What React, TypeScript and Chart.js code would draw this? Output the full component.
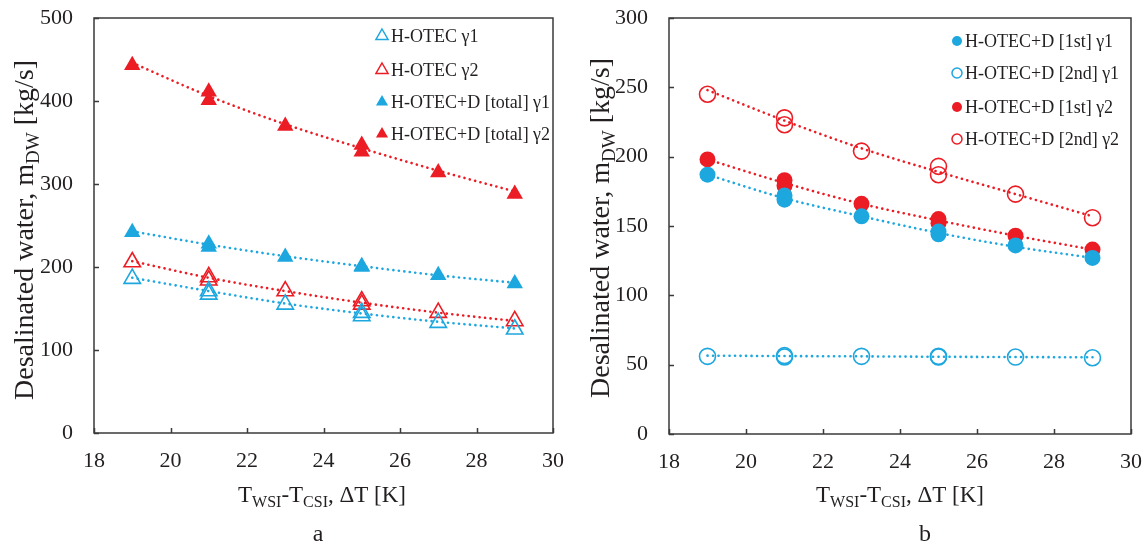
import React, { useEffect, useRef } from "react";
import { Chart, registerables } from "chart.js";

Chart.register(...registerables);

// ---------- data ----------
const xPoints = [19, 21, 21, 23, 25, 25, 27, 29];
const trendX = [19, 21, 23, 25, 27, 29];

// panel a
const aOtecG1 = [186, 171, 167, 155, 145, 141, 133, 125];
const aOtecG2 = [206, 188, 184, 171, 159, 155, 145, 135];
const aTotalG1 = [242, 228, 224, 212, 201, 200, 190, 180];
const aTotalG2 = [443, 411, 401, 370, 347, 339, 314, 288];
const aTrendOtecG1 = [187, 171, 156, 144, 134, 126];
const aTrendOtecG2 = [207, 187, 171, 157, 145, 135];
const aTrendTotalG1 = [243, 227, 213, 201, 190, 181];
const aTrendTotalG2 = [446, 406, 372, 343, 316, 291];

// panel b
const b1stG1 = [187, 172, 169, 157, 146, 144, 136, 127];
const b2ndG1 = [56, 56.5, 55.5, 56, 56, 55.5, 55.5, 55];
const b1stG2 = [198, 183, 179, 166, 155, 152, 143, 133];
const b2ndG2 = [245, 228, 223, 204, 193, 187, 173, 156];
const bTrend1stG1 = [187, 170, 157, 145, 135, 127];
const bTrend2ndG1 = [56.5, 56.2, 56, 55.7, 55.5, 55.3];
const bTrend1stG2 = [198, 181, 166, 154, 143, 133];
const bTrend2ndG2 = [248, 226, 206, 189, 173, 157];

const aLabels = ["H-OTEC γ1", "H-OTEC γ2", "H-OTEC+D [total] γ1", "H-OTEC+D [total] γ2"];
const bLabels = ["H-OTEC+D [1st] γ1", "H-OTEC+D [2nd] γ1", "H-OTEC+D [1st] γ2", "H-OTEC+D [2nd] γ2"];

const BLUE = "#1DA7DF";
const RED = "#EC1C24";
const INK = "#231F20";
const SERIF = "'Liberation Serif', 'Times New Roman', serif";

type Series = {
  label: string;
  values: number[];
  trend: number[];
  color: string;
  filled: boolean;
  shape: "triangle" | "circle";
};

const panelA: Series[] = [
  { label: aLabels[0], values: aOtecG1, trend: aTrendOtecG1, color: BLUE, filled: false, shape: "triangle" },
  { label: aLabels[1], values: aOtecG2, trend: aTrendOtecG2, color: RED, filled: false, shape: "triangle" },
  { label: aLabels[2], values: aTotalG1, trend: aTrendTotalG1, color: BLUE, filled: true, shape: "triangle" },
  { label: aLabels[3], values: aTotalG2, trend: aTrendTotalG2, color: RED, filled: true, shape: "triangle" },
];

const panelB: Series[] = [
  { label: bLabels[0], values: b1stG1, trend: bTrend1stG1, color: BLUE, filled: true, shape: "circle" },
  { label: bLabels[1], values: b2ndG1, trend: bTrend2ndG1, color: BLUE, filled: false, shape: "circle" },
  { label: bLabels[2], values: b1stG2, trend: bTrend1stG2, color: RED, filled: true, shape: "circle" },
  { label: bLabels[3], values: b2ndG2, trend: bTrend2ndG2, color: RED, filled: false, shape: "circle" },
];

type Seg = { t: string; sub?: boolean };

function drawRich(ctx: CanvasRenderingContext2D, segs: Seg[], cx: number, cy: number, size: number, rotate: boolean) {
  const subSize = Math.round(size * 0.68);
  const fontMain = `${size}px ${SERIF}`;
  const fontSub = `${subSize}px ${SERIF}`;
  let total = 0;
  const widths = segs.map((s) => {
    ctx.font = s.sub ? fontSub : fontMain;
    const w = ctx.measureText(s.t).width;
    total += w;
    return w;
  });
  ctx.save();
  ctx.translate(cx, cy);
  if (rotate) ctx.rotate(-Math.PI / 2);
  ctx.fillStyle = INK;
  ctx.textBaseline = "alphabetic";
  ctx.textAlign = "left";
  let x = -total / 2;
  const base = size * 0.33;
  segs.forEach((s, i) => {
    ctx.font = s.sub ? fontSub : fontMain;
    ctx.fillText(s.t, x, s.sub ? base + size * 0.22 : base);
    x += widths[i];
  });
  ctx.restore();
}

function drawMarker(ctx: CanvasRenderingContext2D, shape: string, x: number, y: number, r: number, color: string, filled: boolean) {
  ctx.beginPath();
  if (shape === "triangle") {
    ctx.moveTo(x, y - r);
    ctx.lineTo(x + r * 0.866, y + r * 0.5);
    ctx.lineTo(x - r * 0.866, y + r * 0.5);
    ctx.closePath();
  } else {
    ctx.arc(x, y, r, 0, Math.PI * 2);
  }
  if (filled) {
    ctx.fillStyle = color;
    ctx.fill();
  } else {
    ctx.strokeStyle = color;
    ctx.lineWidth = 1.5;
    ctx.stroke();
  }
}

const decorPlugin = {
  id: "decor",
  afterDraw(chart: any, _args: any, opts: any) {
    const { ctx, chartArea: a, scales } = chart;
    ctx.save();
    // frame
    ctx.strokeStyle = "#3A3A3A";
    ctx.lineWidth = 1.5;
    ctx.strokeRect(a.left, a.top, a.right - a.left, a.bottom - a.top);
    // inner ticks
    ctx.beginPath();
    scales.x.ticks.forEach((t: any) => {
      const px = Math.round(scales.x.getPixelForValue(t.value)) + 0.5;
      ctx.moveTo(px, a.bottom);
      ctx.lineTo(px, a.bottom - 5);
    });
    scales.y.ticks.forEach((t: any) => {
      const py = Math.round(scales.y.getPixelForValue(t.value)) + 0.5;
      ctx.moveTo(a.left, py);
      ctx.lineTo(a.left + 5, py);
    });
    ctx.stroke();
    // legend
    const series: Series[] = opts.series;
    ctx.textBaseline = "middle";
    ctx.textAlign = "left";
    series.forEach((s, i) => {
      const y = opts.legendY[i];
      drawMarker(ctx, s.shape, opts.legendMarkerX, y, s.shape === "triangle" ? 7 : 5, s.color, s.filled);
      ctx.fillStyle = INK;
      ctx.font = `18px ${SERIF}`;
      ctx.fillText(s.label, opts.legendTextX, y + 1);
    });
    // axis titles
    drawRich(ctx, opts.yTitle, opts.yTitleX, opts.yTitleY, 28, true);
    drawRich(ctx, opts.xTitle, opts.xTitleX, opts.xTitleY, 23, false);
    // panel letter
    ctx.font = `24px ${SERIF}`;
    ctx.fillStyle = INK;
    ctx.textAlign = "center";
    ctx.textBaseline = "middle";
    ctx.fillText(opts.letter, opts.letterX, opts.letterY);
    ctx.restore();
  },
};

type PanelCfg = {
  series: Series[];
  yMax: number;
  yStep: number;
  yWidth: number;
  xHeight: number;
  padRight: number;
  padTop: number;
  decor: any;
};

function buildConfig(p: PanelCfg): any {
  const datasets: any[] = [];
  p.series.forEach((s, i) => {
    datasets.push({
      type: "line",
      label: s.label + " trend",
      data: trendX.map((x, k) => ({ x, y: s.trend[k] })),
      showLine: true,
      borderColor: s.color,
      borderWidth: 2.6,
      borderDash: [0.1, 5.4],
      borderCapStyle: "round",
      pointRadius: 0,
      fill: false,
      cubicInterpolationMode: "monotone",
      order: 10 + i,
    });
    datasets.push({
      type: "scatter",
      label: s.label,
      data: xPoints.map((x, k) => ({ x, y: s.values[k] })),
      showLine: false,
      pointStyle: s.shape,
      pointRadius: s.shape === "triangle" ? 9.5 : 8,
      pointBorderWidth: s.filled ? 0 : 1.6,
      pointBackgroundColor: s.filled ? s.color : "rgba(0,0,0,0)",
      pointBorderColor: s.color,
      order: i,
    });
  });
  const tickFont = { family: SERIF, size: 22 };
  return {
    type: "scatter",
    data: { datasets },
    options: {
      animation: false,
      responsive: false,
      maintainAspectRatio: false,
      devicePixelRatio: 1,
      layout: { padding: { left: 0, right: p.padRight, top: p.padTop, bottom: 0 } },
      plugins: {
        legend: { display: false },
        tooltip: { enabled: false },
        decor: p.decor,
      },
      scales: {
        x: {
          type: "linear",
          min: 18,
          max: 30,
          grid: { display: false },
          border: { display: false },
          ticks: { stepSize: 2, color: INK, font: tickFont, padding: 7, maxRotation: 0 },
          afterFit: (sc: any) => {
            sc.height = p.xHeight;
            sc.paddingLeft = 0;
            sc.paddingRight = 0;
          },
        },
        y: {
          type: "linear",
          min: 0,
          max: p.yMax,
          grid: { display: false },
          border: { display: false },
          ticks: { stepSize: p.yStep, color: INK, font: tickFont, padding: 13 },
          afterFit: (sc: any) => {
            sc.width = p.yWidth;
            sc.paddingTop = 0;
            sc.paddingBottom = 0;
          },
        },
      },
    },
    plugins: [decorPlugin],
  };
}

const yTitleSegs: Seg[] = [{ t: "Desalinated water, m" }, { t: "DW", sub: true }, { t: " [kg/s]" }];
const xTitleSegs: Seg[] = [{ t: "T" }, { t: "WSI", sub: true }, { t: "-T" }, { t: "CSI", sub: true }, { t: ", ΔT [K]" }];

const cfgA: PanelCfg = {
  series: panelA,
  yMax: 500,
  yStep: 100,
  yWidth: 94,
  xHeight: 115,
  padRight: 20,
  padTop: 18,
  decor: {
    series: panelA,
    legendMarkerX: 382,
    legendTextX: 391,
    legendY: [36, 70, 102, 134],
    yTitle: yTitleSegs,
    yTitleX: 24,
    yTitleY: 230,
    xTitle: xTitleSegs,
    xTitleX: 322,
    xTitleY: 494,
    letter: "a",
    letterX: 318,
    letterY: 535,
  },
};

const cfgB: PanelCfg = {
  series: panelB,
  yMax: 300,
  yStep: 50,
  yWidth: 96,
  xHeight: 114,
  padRight: 15,
  padTop: 18,
  decor: {
    series: panelB,
    legendMarkerX: 384,
    legendTextX: 392,
    legendY: [41, 73, 107, 139],
    yTitle: yTitleSegs,
    yTitleX: 27,
    yTitleY: 228,
    xTitle: xTitleSegs,
    xTitleX: 327,
    xTitleY: 494,
    letter: "b",
    letterX: 352,
    letterY: 535,
  },
};

function Panel({ cfg, left }: { cfg: PanelCfg; left: number }) {
  const ref = useRef<HTMLCanvasElement | null>(null);
  useEffect(() => {
    if (!ref.current) return;
    const chart = new Chart(ref.current, buildConfig(cfg));
    return () => chart.destroy();
  }, [cfg]);
  return (
    <canvas
      ref={ref}
      width={573}
      height={548}
      style={{ position: "absolute", left, top: 0, width: 573, height: 548 }}
    />
  );
}

export default function App() {
  return (
    <div style={{ position: "fixed", left: 0, top: 0, width: 1146, height: 548, background: "#fff", overflow: "hidden" }}>
      <Panel cfg={cfgA} left={0} />
      <Panel cfg={cfgB} left={573} />
    </div>
  );
}
